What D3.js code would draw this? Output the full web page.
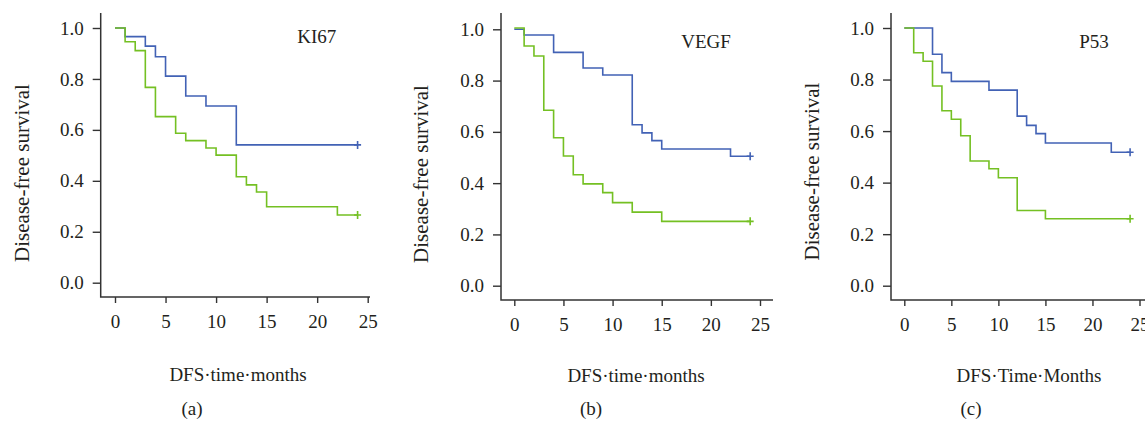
<!DOCTYPE html>
<html>
<head>
<meta charset="utf-8">
<script src="https://cdn.jsdelivr.net/npm/d3@7"></script>
<style>
  body { margin: 0; background: #fff; }
  text { font-family: "Liberation Serif", "Times New Roman", serif; fill: #231f20; }
</style>
</head>
<body>
<div id="chart"></div>
<script>
// survival step data (time in months, survival fraction)
var kiBlueT  = [0, 1, 3, 4, 5, 7, 9, 12, 24];
var kiBlueS  = [1.0, 0.966, 0.929, 0.887, 0.811, 0.733, 0.694, 0.541, 0.541];
var kiGreenT = [0, 1, 2, 3, 4, 6, 7, 9, 10, 12, 13, 14, 15, 22, 24];
var kiGreenS = [1.0, 0.946, 0.911, 0.767, 0.652, 0.587, 0.558, 0.529, 0.501, 0.416, 0.384, 0.356, 0.298, 0.266, 0.266];

var vegfBlueT  = [0, 1, 4, 7, 9, 12, 13, 14, 15, 22, 24];
var vegfBlueS  = [1.0, 0.978, 0.910, 0.849, 0.822, 0.628, 0.596, 0.566, 0.533, 0.505, 0.505];
var vegfGreenT = [0, 1, 2, 3, 4, 5, 6, 7, 9, 10, 12, 15, 24];
var vegfGreenS = [1.005, 0.935, 0.896, 0.684, 0.577, 0.506, 0.433, 0.397, 0.363, 0.324, 0.287, 0.251, 0.251];

var p53BlueT  = [0, 3, 4, 5, 9, 12, 13, 14, 15, 22, 24];
var p53BlueS  = [1.0, 0.898, 0.827, 0.793, 0.759, 0.658, 0.622, 0.590, 0.554, 0.518, 0.518];
var p53GreenT = [0, 1, 2, 3, 4, 5, 6, 7, 9, 10, 12, 15, 24];
var p53GreenS = [1.0, 0.904, 0.871, 0.775, 0.679, 0.646, 0.582, 0.484, 0.454, 0.419, 0.292, 0.260, 0.260];

var markers   = ["KI67", "VEGF", "P53"];
var xTitles   = ["DFS\u00b7time\u00b7months", "DFS\u00b7time\u00b7months", "DFS\u00b7Time\u00b7Months"];
var subLabels = ["(a)", "(b)", "(c)"];
var xTicks = [0, 5, 10, 15, 20, 25];
var yTicks = [0, 0.2, 0.4, 0.6, 0.8, 1.0];
var yTitle = "Disease-free survival";

var blue = "#4262b5", green = "#74c023";

var series = [
  [{t: kiBlueT, s: kiBlueS, c: blue}, {t: kiGreenT, s: kiGreenS, c: green}],
  [{t: vegfBlueT, s: vegfBlueS, c: blue}, {t: vegfGreenT, s: vegfGreenS, c: green}],
  [{t: p53BlueT, s: p53BlueS, c: blue}, {t: p53GreenT, s: p53GreenS, c: green}]
];

// where each panel sits on the page
var panels = [
  {x0: 115, x25: 367.7, yb: 282.7, yt: 28, axX: 100.7, axY: 297, axTop: 13, axRight: 370,
   title: [316.7, 43], ylab: [29, 173], xlab: [238, 381], sub: [192, 415]},
  {x0: 514.3, x25: 760, yb: 285.7, yt: 29.3, axX: 501, axY: 300, axTop: 13, axRight: 773,
   title: [706, 48], ylab: [428, 174], xlab: [636, 381.5], sub: [591, 415]},
  {x0: 904.3, x25: 1139.5, yb: 285.7, yt: 28, axX: 891, axY: 300, axTop: 13, axRight: 1150,
   title: [1094, 48], ylab: [818.5, 171.5], xlab: [1029, 382], sub: [971, 415]}
];

var svg = d3.select("#chart").append("svg")
  .attr("width", 1145)
  .attr("height", 423);

panels.forEach(function(p, i){
  var x = d3.scaleLinear().domain([0, 25]).range([p.x0, p.x25]);
  var y = d3.scaleLinear().domain([0, 1]).range([p.yb, p.yt]);
  var g = svg.append("g");

  // axes
  var ya = g.append("g")
    .attr("transform", "translate(" + p.axX + ",0)")
    .call(d3.axisLeft(y).tickValues(yTicks).tickFormat(d3.format(".1f")).tickSize(8).tickPadding(9));
  var xa = g.append("g")
    .attr("transform", "translate(0," + p.axY + ")")
    .call(d3.axisBottom(x).tickValues(xTicks).tickSize(6).tickPadding(12));
  [ya, xa].forEach(function(a){
    a.select(".domain").remove();
    a.selectAll("line").attr("stroke", "#333").attr("stroke-width", 1.4);
    a.selectAll("text").style("font-size", "19px").style("font-family", "Liberation Serif, serif").attr("fill", "#231f20");
  });
  g.append("path")
    .attr("d", "M" + p.axX + "," + p.axTop + "V" + p.axY + "H" + p.axRight)
    .attr("fill", "none")
    .attr("stroke", "#333")
    .attr("stroke-width", 1.5);

  // survival curves
  var line = d3.line()
    .x(function(d){ return x(d[0]); })
    .y(function(d){ return y(d[1]); })
    .curve(d3.curveStepAfter);

  series[i].forEach(function(sr){
    var pts = sr.t.map(function(t, k){ return [t, sr.s[k]]; });
    g.append("path")
      .datum(pts)
      .attr("d", line)
      .attr("fill", "none")
      .attr("stroke", sr.c)
      .attr("stroke-width", 1.6);
    var last = pts[pts.length - 1];
    g.append("path")
      .attr("d", "M" + (x(last[0]) - 3.5) + "," + y(last[1]) + "h7M" + x(last[0]) + "," + (y(last[1]) - 4) + "v8")
      .attr("stroke", sr.c)
      .attr("stroke-width", 1.6);
  });

  // labels
  g.append("text")
    .attr("x", p.title[0]).attr("y", p.title[1])
    .attr("text-anchor", "middle")
    .style("font-size", "19px")
    .text(markers[i]);

  g.append("text")
    .attr("transform", "translate(" + p.ylab[0] + "," + p.ylab[1] + ") rotate(-90)")
    .attr("text-anchor", "middle")
    .style("font-size", "21px")
    .text(yTitle);

  g.append("text")
    .attr("x", p.xlab[0]).attr("y", p.xlab[1])
    .attr("text-anchor", "middle")
    .style("font-size", "19px")
    .text(xTitles[i]);

  g.append("text")
    .attr("x", p.sub[0]).attr("y", p.sub[1])
    .attr("text-anchor", "middle")
    .style("font-size", "19px")
    .text(subLabels[i]);
});
</script>
</body>
</html>
